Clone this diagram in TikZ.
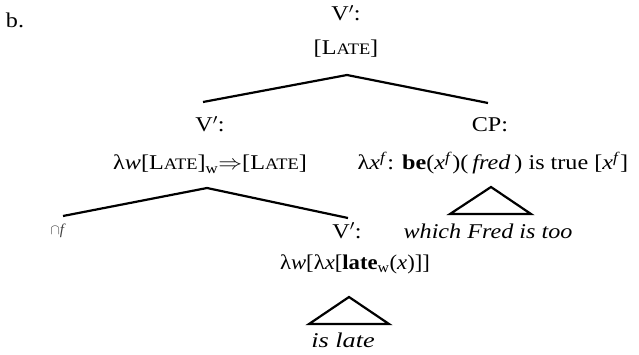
\documentclass[tikz,border=0pt]{standalone}
\usepackage{fontspec}
\usepackage{graphicx}
\setmainfont{Liberation Serif}
\usetikzlibrary{positioning}
\newcommand{\scLATE}{L{\fontsize{16}{16}\selectfont ATE}}
\newcommand{\hs}[1]{\scalebox{1.15}[1]{#1}}
\tikzset{lab/.style={anchor=base, inner sep=0pt, font=\fontsize{21}{24}\selectfont},
         branch/.style={line width=2.2pt, line join=miter}}

\begin{document}
\begin{tikzpicture}[x=1pt,y=-1pt]
            \useasboundingbox (0,0) rectangle (639,355);
            \node[lab] (b) at (15,28){\hs{b.}};
            % top node
            \node[lab] (vtop) at (346,21){\hs{V$'$:}};
            \node[lab] (semtop) at (346,55){\hs{[\scLATE]}};
            % daughters
            \node[lab] (vleft) at (210,132){\hs{V$'$:}};
            \node[lab] (semleft) at (210,170){\hs{λ\textit{w}[\scLATE]\textsubscript{w}$\Rightarrow$[\scLATE]}};
            \node[lab] (cp) at (490,132){\hs{CP:}};
            \node[lab] (semcp) at (493,170){\hs{λ\textit{x}\textsuperscript{\textit{f}}: \textbf{be}(\textit{x}\textsuperscript{\textit{f}})(\,\textit{fred}\,) is true [\textit{x}\textsuperscript{\textit{f}}]}};
            \node[lab] (cpleaf) at (488,238){\hs{\textit{which Fred is too}}};
            % lower daughters
            \node[lab, font=\fontsize{15}{16}\selectfont, text=black!75] (cap) at (58,235){$\cap$\textit{f}};
            \node[lab] (vlow) at (347,238){\hs{V$'$:}};
            \node[lab] (semlow) at (355,269){\scalebox{1.08}[1]{λ\textit{w}[λ\textit{x}[\textbf{late}\textsubscript{w}(\textit{x})]]}};
            \node[lab] (vleaf) at (343,347){\scalebox{1.25}[1]{\textit{is late}}};
            % branch points
            \coordinate (apA) at (347,75);
            \coordinate (apB) at (207,188);
            \draw[branch] (203,102) coordinate (endA) -- (apA) -- (488,103) coordinate (endB);
            \draw[branch] (63,216) coordinate (endC) -- (apB) -- (348,218) coordinate (endD);
            % roofs
            \draw[branch] (491,187) coordinate (roofA) -- (531,214) -- (450,214) -- cycle;
            \draw[branch] (349,297) coordinate (roofB) -- (389,324) -- (309,324) -- cycle;
\end{tikzpicture}
\end{document}
